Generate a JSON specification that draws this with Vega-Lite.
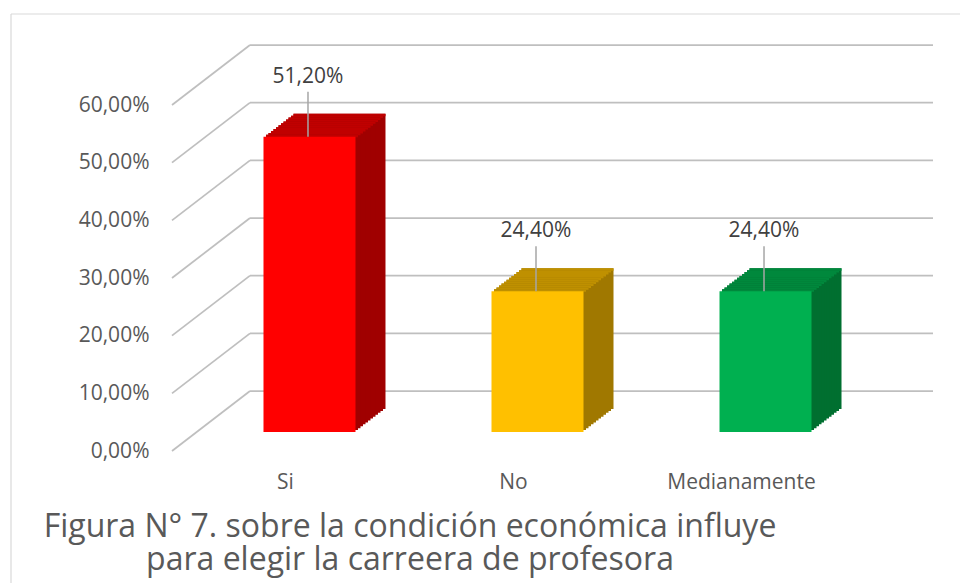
{
  "$schema": "https://vega.github.io/schema/vega-lite/v6.json",
  "width": 683,
  "height": 346,
  "autosize": {"type": "none"},
  "padding": {"left": 172, "top": 105, "right": 105, "bottom": 132},
  "background": "white",
  "datasets": {
    "main": [
      {"cat": "Si", "v": 0.512},
      {"cat": "No", "v": 0.244},
      {"cat": "Medianamente", "v": 0.244}
    ],
    "grid": [{"g": 0}, {"g": 0.1}, {"g": 0.2}, {"g": 0.3}, {"g": 0.4}, {"g": 0.5}, {"g": 0.6}],
    "frame": [{"f": 1}]
  },
  "data": {"name": "main"},
  "title": {
    "text": ["Figura N° 7. sobre la condición económica influye", "para elegir la carreera de profesora"],
    "orient": "bottom",
    "anchor": "middle",
    "frame": "group",
    "offset": -79,
    "dx": -103.5,
    "font": "Open Sans",
    "fontSize": 32,
    "fontWeight": "normal",
    "color": "#595959",
    "lineHeight": 33.5
  },
  "layer": [
    {
      "data": {"name": "frame"},
      "mark": {"type": "rule", "stroke": "#D9D9D9", "strokeWidth": 1.2, "xOffset": -274.5, "x2Offset": 233.5, "yOffset": -91},
      "encoding": {
        "x": {"datum": "Si", "type": "nominal", "sort": ["Si", "No", "Medianamente"], "scale": {"paddingInner": 0.5965, "paddingOuter": 0.296}, "axis": {"title": null, "labelAngle": 0, "ticks": false, "domain": false, "grid": false, "labelPadding": 20, "labelFont": "Open Sans", "labelFontSize": 21, "labelColor": "#595959"}},
        "x2": {"datum": "Medianamente"},
        "y": {"datum": 0.6, "type": "quantitative", "scale": {"domain": [0, 0.6], "nice": false}, "axis": {"title": null, "format": ".2%", "values": [0, 0.1, 0.2, 0.3, 0.4, 0.5, 0.6], "ticks": false, "domain": false, "grid": false, "labelPadding": 23, "labelFont": "Open Sans", "labelFontSize": 21, "labelColor": "#595959"}}
      }
    },
    {
      "data": {"name": "frame"},
      "mark": {"type": "rule", "stroke": "#D9D9D9", "strokeWidth": 1.2, "xOffset": -274.5, "yOffset": 139, "y2Offset": -91},
      "encoding": {
        "x": {"datum": "Si", "type": "nominal", "sort": ["Si", "No", "Medianamente"], "axis": {"title": null, "labelAngle": 0, "ticks": false, "domain": false, "grid": false, "labelPadding": 20, "labelFont": "Open Sans", "labelFontSize": 21, "labelColor": "#595959"}},
        "y": {"datum": 0, "type": "quantitative", "axis": {"title": null, "format": ".2%", "values": [0, 0.1, 0.2, 0.3, 0.4, 0.5, 0.6], "ticks": false, "domain": false, "grid": false, "labelPadding": 23, "labelFont": "Open Sans", "labelFontSize": 21, "labelColor": "#595959"}},
        "y2": {"datum": 0.6}
      }
    },
    {
      "data": {"name": "grid"},
      "mark": {"type": "rule", "stroke": "#BFBFBF", "strokeWidth": 1.75, "xOffset": -35.5, "x2Offset": 191.5, "yOffset": -60},
      "encoding": {
        "x": {"datum": "Si", "type": "nominal", "sort": ["Si", "No", "Medianamente"], "axis": {"title": null, "labelAngle": 0, "ticks": false, "domain": false, "grid": false, "labelPadding": 20, "labelFont": "Open Sans", "labelFontSize": 21, "labelColor": "#595959"}},
        "x2": {"datum": "Medianamente"},
        "y": {"field": "g", "type": "quantitative", "axis": {"title": null, "format": ".2%", "values": [0, 0.1, 0.2, 0.3, 0.4, 0.5, 0.6], "ticks": false, "domain": false, "grid": false, "labelPadding": 23, "labelFont": "Open Sans", "labelFontSize": 21, "labelColor": "#595959"}}
      }
    },
    {
      "data": {"name": "grid"},
      "mark": {"type": "rule", "stroke": "#BFBFBF", "strokeWidth": 1.75, "xOffset": -113.5, "x2Offset": -35.5, "y2Offset": -60},
      "encoding": {
        "x": {"datum": "Si", "type": "nominal", "sort": ["Si", "No", "Medianamente"], "axis": {"title": null, "labelAngle": 0, "ticks": false, "domain": false, "grid": false, "labelPadding": 20, "labelFont": "Open Sans", "labelFontSize": 21, "labelColor": "#595959"}},
        "x2": {"datum": "Si"},
        "y": {"field": "g", "type": "quantitative", "axis": {"title": null, "format": ".2%", "values": [0, 0.1, 0.2, 0.3, 0.4, 0.5, 0.6], "ticks": false, "domain": false, "grid": false, "labelPadding": 23, "labelFont": "Open Sans", "labelFontSize": 21, "labelColor": "#595959"}},
        "y2": {"field": "g"}
      }
    },
    {"mark": {"type": "bar", "xOffset": 54, "yOffset": -42, "y2Offset": -42}, "encoding": {"x": {"field": "cat", "type": "nominal", "sort": ["Si", "No", "Medianamente"], "title": null}, "y": {"field": "v", "type": "quantitative", "title": null}, "color": {"condition": [{"test": "datum.cat === 'Si'", "value": "#A00000"}, {"test": "datum.cat === 'No'", "value": "#A07800"}], "value": "#006F30"}}},
    {"mark": {"type": "bar", "xOffset": 54, "yOffset": -42, "y2Offset": -39.58}, "encoding": {"x": {"field": "cat", "type": "nominal", "sort": ["Si", "No", "Medianamente"], "title": null}, "y": {"field": "v", "type": "quantitative", "title": null}, "y2": {"field": "v"}, "color": {"condition": [{"test": "datum.cat === 'Si'", "value": "#C00000"}, {"test": "datum.cat === 'No'", "value": "#BF9000"}], "value": "#00883C"}}},
    {"mark": {"type": "bar", "xOffset": 51.5, "yOffset": -40.08, "y2Offset": -40.08}, "encoding": {"x": {"field": "cat", "type": "nominal", "sort": ["Si", "No", "Medianamente"], "title": null}, "y": {"field": "v", "type": "quantitative", "title": null}, "color": {"condition": [{"test": "datum.cat === 'Si'", "value": "#A00000"}, {"test": "datum.cat === 'No'", "value": "#A07800"}], "value": "#006F30"}}},
    {"mark": {"type": "bar", "xOffset": 51.5, "yOffset": -40.08, "y2Offset": -37.67}, "encoding": {"x": {"field": "cat", "type": "nominal", "sort": ["Si", "No", "Medianamente"], "title": null}, "y": {"field": "v", "type": "quantitative", "title": null}, "y2": {"field": "v"}, "color": {"condition": [{"test": "datum.cat === 'Si'", "value": "#C00000"}, {"test": "datum.cat === 'No'", "value": "#BF9000"}], "value": "#00883C"}}},
    {"mark": {"type": "bar", "xOffset": 49, "yOffset": -38.17, "y2Offset": -38.17}, "encoding": {"x": {"field": "cat", "type": "nominal", "sort": ["Si", "No", "Medianamente"], "title": null}, "y": {"field": "v", "type": "quantitative", "title": null}, "color": {"condition": [{"test": "datum.cat === 'Si'", "value": "#A00000"}, {"test": "datum.cat === 'No'", "value": "#A07800"}], "value": "#006F30"}}},
    {"mark": {"type": "bar", "xOffset": 49, "yOffset": -38.17, "y2Offset": -35.75}, "encoding": {"x": {"field": "cat", "type": "nominal", "sort": ["Si", "No", "Medianamente"], "title": null}, "y": {"field": "v", "type": "quantitative", "title": null}, "y2": {"field": "v"}, "color": {"condition": [{"test": "datum.cat === 'Si'", "value": "#C00000"}, {"test": "datum.cat === 'No'", "value": "#BF9000"}], "value": "#00883C"}}},
    {"mark": {"type": "bar", "xOffset": 46.5, "yOffset": -36.25, "y2Offset": -36.25}, "encoding": {"x": {"field": "cat", "type": "nominal", "sort": ["Si", "No", "Medianamente"], "title": null}, "y": {"field": "v", "type": "quantitative", "title": null}, "color": {"condition": [{"test": "datum.cat === 'Si'", "value": "#A00000"}, {"test": "datum.cat === 'No'", "value": "#A07800"}], "value": "#006F30"}}},
    {"mark": {"type": "bar", "xOffset": 46.5, "yOffset": -36.25, "y2Offset": -33.83}, "encoding": {"x": {"field": "cat", "type": "nominal", "sort": ["Si", "No", "Medianamente"], "title": null}, "y": {"field": "v", "type": "quantitative", "title": null}, "y2": {"field": "v"}, "color": {"condition": [{"test": "datum.cat === 'Si'", "value": "#C00000"}, {"test": "datum.cat === 'No'", "value": "#BF9000"}], "value": "#00883C"}}},
    {"mark": {"type": "bar", "xOffset": 44, "yOffset": -34.33, "y2Offset": -34.33}, "encoding": {"x": {"field": "cat", "type": "nominal", "sort": ["Si", "No", "Medianamente"], "title": null}, "y": {"field": "v", "type": "quantitative", "title": null}, "color": {"condition": [{"test": "datum.cat === 'Si'", "value": "#A00000"}, {"test": "datum.cat === 'No'", "value": "#A07800"}], "value": "#006F30"}}},
    {"mark": {"type": "bar", "xOffset": 44, "yOffset": -34.33, "y2Offset": -31.92}, "encoding": {"x": {"field": "cat", "type": "nominal", "sort": ["Si", "No", "Medianamente"], "title": null}, "y": {"field": "v", "type": "quantitative", "title": null}, "y2": {"field": "v"}, "color": {"condition": [{"test": "datum.cat === 'Si'", "value": "#C00000"}, {"test": "datum.cat === 'No'", "value": "#BF9000"}], "value": "#00883C"}}},
    {"mark": {"type": "bar", "xOffset": 41.5, "yOffset": -32.42, "y2Offset": -32.42}, "encoding": {"x": {"field": "cat", "type": "nominal", "sort": ["Si", "No", "Medianamente"], "title": null}, "y": {"field": "v", "type": "quantitative", "title": null}, "color": {"condition": [{"test": "datum.cat === 'Si'", "value": "#A00000"}, {"test": "datum.cat === 'No'", "value": "#A07800"}], "value": "#006F30"}}},
    {"mark": {"type": "bar", "xOffset": 41.5, "yOffset": -32.42, "y2Offset": -30}, "encoding": {"x": {"field": "cat", "type": "nominal", "sort": ["Si", "No", "Medianamente"], "title": null}, "y": {"field": "v", "type": "quantitative", "title": null}, "y2": {"field": "v"}, "color": {"condition": [{"test": "datum.cat === 'Si'", "value": "#C00000"}, {"test": "datum.cat === 'No'", "value": "#BF9000"}], "value": "#00883C"}}},
    {"mark": {"type": "bar", "xOffset": 39, "yOffset": -30.5, "y2Offset": -30.5}, "encoding": {"x": {"field": "cat", "type": "nominal", "sort": ["Si", "No", "Medianamente"], "title": null}, "y": {"field": "v", "type": "quantitative", "title": null}, "color": {"condition": [{"test": "datum.cat === 'Si'", "value": "#A00000"}, {"test": "datum.cat === 'No'", "value": "#A07800"}], "value": "#006F30"}}},
    {"mark": {"type": "bar", "xOffset": 39, "yOffset": -30.5, "y2Offset": -28.08}, "encoding": {"x": {"field": "cat", "type": "nominal", "sort": ["Si", "No", "Medianamente"], "title": null}, "y": {"field": "v", "type": "quantitative", "title": null}, "y2": {"field": "v"}, "color": {"condition": [{"test": "datum.cat === 'Si'", "value": "#C00000"}, {"test": "datum.cat === 'No'", "value": "#BF9000"}], "value": "#00883C"}}},
    {"mark": {"type": "bar", "xOffset": 36.5, "yOffset": -28.58, "y2Offset": -28.58}, "encoding": {"x": {"field": "cat", "type": "nominal", "sort": ["Si", "No", "Medianamente"], "title": null}, "y": {"field": "v", "type": "quantitative", "title": null}, "color": {"condition": [{"test": "datum.cat === 'Si'", "value": "#A00000"}, {"test": "datum.cat === 'No'", "value": "#A07800"}], "value": "#006F30"}}},
    {"mark": {"type": "bar", "xOffset": 36.5, "yOffset": -28.58, "y2Offset": -26.17}, "encoding": {"x": {"field": "cat", "type": "nominal", "sort": ["Si", "No", "Medianamente"], "title": null}, "y": {"field": "v", "type": "quantitative", "title": null}, "y2": {"field": "v"}, "color": {"condition": [{"test": "datum.cat === 'Si'", "value": "#C00000"}, {"test": "datum.cat === 'No'", "value": "#BF9000"}], "value": "#00883C"}}},
    {"mark": {"type": "bar", "xOffset": 34, "yOffset": -26.67, "y2Offset": -26.67}, "encoding": {"x": {"field": "cat", "type": "nominal", "sort": ["Si", "No", "Medianamente"], "title": null}, "y": {"field": "v", "type": "quantitative", "title": null}, "color": {"condition": [{"test": "datum.cat === 'Si'", "value": "#A00000"}, {"test": "datum.cat === 'No'", "value": "#A07800"}], "value": "#006F30"}}},
    {"mark": {"type": "bar", "xOffset": 34, "yOffset": -26.67, "y2Offset": -24.25}, "encoding": {"x": {"field": "cat", "type": "nominal", "sort": ["Si", "No", "Medianamente"], "title": null}, "y": {"field": "v", "type": "quantitative", "title": null}, "y2": {"field": "v"}, "color": {"condition": [{"test": "datum.cat === 'Si'", "value": "#C00000"}, {"test": "datum.cat === 'No'", "value": "#BF9000"}], "value": "#00883C"}}},
    {"mark": {"type": "bar", "xOffset": 31.5, "yOffset": -24.75, "y2Offset": -24.75}, "encoding": {"x": {"field": "cat", "type": "nominal", "sort": ["Si", "No", "Medianamente"], "title": null}, "y": {"field": "v", "type": "quantitative", "title": null}, "color": {"condition": [{"test": "datum.cat === 'Si'", "value": "#A00000"}, {"test": "datum.cat === 'No'", "value": "#A07800"}], "value": "#006F30"}}},
    {"mark": {"type": "bar", "xOffset": 31.5, "yOffset": -24.75, "y2Offset": -22.33}, "encoding": {"x": {"field": "cat", "type": "nominal", "sort": ["Si", "No", "Medianamente"], "title": null}, "y": {"field": "v", "type": "quantitative", "title": null}, "y2": {"field": "v"}, "color": {"condition": [{"test": "datum.cat === 'Si'", "value": "#C00000"}, {"test": "datum.cat === 'No'", "value": "#BF9000"}], "value": "#00883C"}}},
    {"mark": {"type": "bar", "xOffset": 29, "yOffset": -22.83, "y2Offset": -22.83}, "encoding": {"x": {"field": "cat", "type": "nominal", "sort": ["Si", "No", "Medianamente"], "title": null}, "y": {"field": "v", "type": "quantitative", "title": null}, "color": {"condition": [{"test": "datum.cat === 'Si'", "value": "#A00000"}, {"test": "datum.cat === 'No'", "value": "#A07800"}], "value": "#006F30"}}},
    {"mark": {"type": "bar", "xOffset": 29, "yOffset": -22.83, "y2Offset": -20.42}, "encoding": {"x": {"field": "cat", "type": "nominal", "sort": ["Si", "No", "Medianamente"], "title": null}, "y": {"field": "v", "type": "quantitative", "title": null}, "y2": {"field": "v"}, "color": {"condition": [{"test": "datum.cat === 'Si'", "value": "#C00000"}, {"test": "datum.cat === 'No'", "value": "#BF9000"}], "value": "#00883C"}}},
    {"mark": {"type": "bar", "xOffset": 26.5, "yOffset": -20.92, "y2Offset": -20.92}, "encoding": {"x": {"field": "cat", "type": "nominal", "sort": ["Si", "No", "Medianamente"], "title": null}, "y": {"field": "v", "type": "quantitative", "title": null}, "color": {"condition": [{"test": "datum.cat === 'Si'", "value": "#A00000"}, {"test": "datum.cat === 'No'", "value": "#A07800"}], "value": "#006F30"}}},
    {"mark": {"type": "bar", "xOffset": 26.5, "yOffset": -20.92, "y2Offset": -18.5}, "encoding": {"x": {"field": "cat", "type": "nominal", "sort": ["Si", "No", "Medianamente"], "title": null}, "y": {"field": "v", "type": "quantitative", "title": null}, "y2": {"field": "v"}, "color": {"condition": [{"test": "datum.cat === 'Si'", "value": "#C00000"}, {"test": "datum.cat === 'No'", "value": "#BF9000"}], "value": "#00883C"}}},
    {
      "mark": {"type": "bar", "xOffset": 24, "yOffset": -19, "y2Offset": -19},
      "encoding": {
        "x": {"field": "cat", "type": "nominal", "sort": ["Si", "No", "Medianamente"], "axis": {"title": null, "labelAngle": 0, "ticks": false, "domain": false, "grid": false, "labelPadding": 20, "labelFont": "Open Sans", "labelFontSize": 21, "labelColor": "#595959"}},
        "y": {"field": "v", "type": "quantitative", "axis": {"title": null, "format": ".2%", "values": [0, 0.1, 0.2, 0.3, 0.4, 0.5, 0.6], "ticks": false, "domain": false, "grid": false, "labelPadding": 23, "labelFont": "Open Sans", "labelFontSize": 21, "labelColor": "#595959"}},
        "color": {"condition": [{"test": "datum.cat === 'Si'", "value": "#FF0000"}, {"test": "datum.cat === 'No'", "value": "#FFC000"}], "value": "#00B050"}
      }
    },
    {
      "mark": {"type": "rule", "stroke": "#A6A6A6", "strokeWidth": 1.5, "xOffset": 22.5, "yOffset": -64, "y2Offset": -19},
      "encoding": {
        "x": {"field": "cat", "type": "nominal", "sort": ["Si", "No", "Medianamente"], "title": null},
        "y": {"field": "v", "type": "quantitative", "title": null},
        "y2": {"field": "v"}
      }
    },
    {
      "mark": {"type": "text", "font": "Open Sans", "fontSize": 21, "color": "#404040", "align": "center", "baseline": "middle", "dx": 22.5, "dy": -79},
      "encoding": {
        "x": {"field": "cat", "type": "nominal", "sort": ["Si", "No", "Medianamente"], "title": null},
        "y": {"field": "v", "type": "quantitative", "title": null},
        "text": {"field": "v", "type": "quantitative", "format": ".2%"}
      }
    }
  ],
  "config": {
    "view": {"stroke": null},
    "axis": {"labelFont": "Open Sans", "labelFontSize": 21, "labelColor": "#595959"},
    "axisX": {"labelAngle": 0, "ticks": false, "domain": false, "grid": false, "labelPadding": 20, "labelFont": "Open Sans", "labelFontSize": 21, "labelColor": "#595959"},
    "axisY": {"ticks": false, "domain": false, "grid": false, "labelPadding": 23, "labelFont": "Open Sans", "labelFontSize": 21, "labelColor": "#595959"},
    "locale": {"number": {"decimal": ",", "thousands": ".", "grouping": [3], "currency": ["", " €"]}}
  }
}
